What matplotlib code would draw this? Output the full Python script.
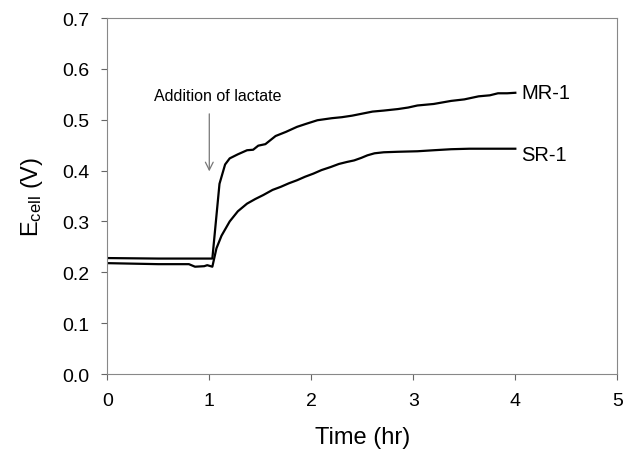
import matplotlib
matplotlib.use('Agg')
import matplotlib.pyplot as plt

plt.rcParams['font.family'] = ['Liberation Sans', 'DejaVu Sans']
plt.rcParams['mathtext.fontset'] = 'custom'
plt.rcParams['mathtext.rm'] = 'Liberation Sans'
plt.rcParams['mathtext.it'] = 'Liberation Sans:italic'

# MR-1 cell potential vs time
mr1_time = [0, 0.5, 1.03, 1.10, 1.155, 1.2, 1.28, 1.37, 1.43, 1.48, 1.55, 1.65, 1.75,
            1.86, 1.95, 2.06, 2.2, 2.3, 2.4, 2.5, 2.6, 2.71, 2.85, 2.95, 3.04, 3.2,
            3.37, 3.5, 3.64, 3.75, 3.83, 3.92, 4.0]
mr1_ecell = [0.228, 0.227, 0.227, 0.374, 0.412, 0.424, 0.432, 0.440, 0.441, 0.449,
             0.452, 0.468, 0.476, 0.486, 0.492, 0.499, 0.503, 0.505, 0.508, 0.512,
             0.516, 0.518, 0.521, 0.524, 0.528, 0.531, 0.537, 0.540, 0.546, 0.548,
             0.552, 0.552, 0.553]

# SR-1 cell potential vs time
sr1_time = [0, 0.5, 0.8, 0.86, 0.95, 0.98, 1.03, 1.07, 1.12, 1.2, 1.28, 1.37, 1.45,
            1.53, 1.62, 1.7, 1.78, 1.86, 1.94, 2.02, 2.1, 2.19, 2.27, 2.35, 2.42,
            2.49, 2.55, 2.62, 2.71, 2.85, 3.04, 3.2, 3.37, 3.55, 3.7, 4.0]
sr1_ecell = [0.218, 0.216, 0.216, 0.211, 0.212, 0.214, 0.211, 0.247, 0.272, 0.300,
             0.320, 0.335, 0.344, 0.352, 0.362, 0.368, 0.375, 0.381, 0.388, 0.394,
             0.401, 0.407, 0.413, 0.417, 0.420, 0.425, 0.430, 0.434, 0.436, 0.437,
             0.438, 0.440, 0.442, 0.443, 0.443, 0.443]

x_ticks = [0, 1, 2, 3, 4, 5]
y_ticks = [0.0, 0.1, 0.2, 0.3, 0.4, 0.5, 0.6, 0.7]

fig = plt.figure(figsize=(6.23, 4.56), dpi=100)
ax = fig.add_axes([0.1722, 0.1776, 0.8187, 0.7807])

ax.plot(mr1_time, mr1_ecell, color='black', lw=1.6)
ax.plot(sr1_time, sr1_ecell, color='black', lw=1.6)

ax.text(4.06, 0.553, 'MR-1', fontsize=14.5, va='center', ha='left')
ax.text(4.06, 0.431, 'SR-1', fontsize=14.5, va='center', ha='left')

# arrow marking lactate addition
ax.annotate('', xy=(1.0, 0.393), xytext=(1.0, 0.517),
            arrowprops=dict(arrowstyle='->', color='#777777', lw=0.9,
                            mutation_scale=14))
ax.text(0.46, 0.548, 'Addition of lactate', fontsize=11.5, va='center', ha='left')

ax.set_xlim(0, 5)
ax.set_ylim(0, 0.7)
ax.set_xticks(x_ticks)
ax.set_yticks(y_ticks)
ax.set_xticklabels([str(t) for t in x_ticks])
ax.set_yticklabels([f'{t:.1f}' for t in y_ticks])

for s in ax.spines.values():
    s.set_color('#888888')
    s.set_linewidth(0.8)

ax.tick_params(axis='both', direction='out', length=4, width=0.8,
               color='#666666', labelsize=14)
ax.tick_params(axis='x', pad=9)
ax.tick_params(axis='y', pad=9)

ax.set_xlabel('Time (hr)', fontsize=17, labelpad=12)
ax.set_ylabel(r'E$_{\rm cell}$ (V)', fontsize=17, labelpad=12)

fig.savefig('out.png', dpi=100)
